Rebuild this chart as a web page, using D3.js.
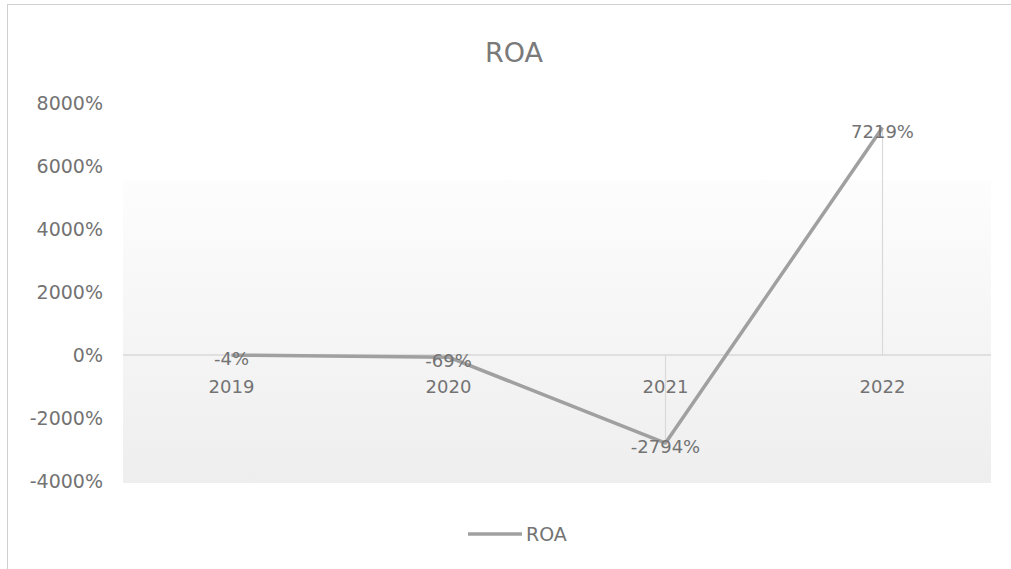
<!DOCTYPE html>
<html>
<head>
<meta charset="utf-8">
<script src="https://cdn.jsdelivr.net/npm/d3@7"></script>
<style>
  body { margin: 0; background: #fff; }
  text { font-family: "DejaVu Sans", sans-serif; }
</style>
</head>
<body>
<svg id="chart" width="1011" height="569"></svg>
<script>
// data
let years = ["2019", "2020", "2021", "2022"];
let roa = [-4, -69, -2794, 7219];
let yTicks = [-4000, -2000, 0, 2000, 4000, 6000, 8000];

let svg = d3.select("#chart");

// chart frame
svg.append("rect")
  .attr("x", 7.5).attr("y", 4.5)
  .attr("width", 1010).attr("height", 570)
  .attr("fill", "#fff")
  .attr("stroke", "#d0d0d0");

// scales
let xScale = d3.scaleBand()
  .domain(years)
  .range([123, 991]);

let yScale = d3.scaleLinear()
  .domain([-4000, 8000])
  .range([481, 103]);

// background band in plot area
let defs = svg.append("defs");
let grad = defs.append("linearGradient")
  .attr("id", "bg").attr("x1", 0).attr("y1", 0).attr("x2", 0).attr("y2", 1);
grad.append("stop").attr("offset", "0%").attr("stop-color", "#fdfdfd");
grad.append("stop").attr("offset", "100%").attr("stop-color", "#eeeeee");

svg.append("rect")
  .attr("x", 123).attr("y", 180)
  .attr("width", 868).attr("height", yScale(-4000) - 180 + 2)
  .attr("fill", "url(#bg)");

// title
svg.append("text")
  .attr("x", 514).attr("y", 62)
  .attr("text-anchor", "middle")
  .attr("font-size", 27)
  .attr("fill", "#7a7a7a")
  .text("ROA");

// y axis labels
let yAxis = d3.axisLeft(yScale)
  .tickValues(yTicks)
  .tickSize(0)
  .tickPadding(0)
  .tickFormat(d => d + "%");

svg.append("g")
  .attr("transform", "translate(103,0)")
  .call(yAxis)
  .call(g => g.select(".domain").remove())
  .call(g => g.selectAll("text")
    .attr("font-family", "DejaVu Sans")
    .attr("font-size", 19)
    .attr("fill", "#737373"));

// zero line
svg.append("line")
  .attr("x1", 123).attr("x2", 991)
  .attr("y1", yScale(0)).attr("y2", yScale(0))
  .attr("stroke", "#d9d9d9").attr("stroke-width", 1.5);

// category labels
let xAxis = d3.axisBottom(xScale).tickSize(0).tickPadding(25);
svg.append("g")
  .attr("transform", `translate(0,${yScale(0)})`)
  .call(xAxis)
  .call(g => g.select(".domain").remove())
  .call(g => g.selectAll("text")
    .attr("font-family", "DejaVu Sans")
    .attr("font-size", 18)
    .attr("fill", "#737373"));

let cx = d => xScale(d) + xScale.bandwidth() / 2;

// drop lines
svg.append("g").selectAll("line")
  .data(years)
  .join("line")
  .attr("x1", d => cx(d)).attr("x2", d => cx(d))
  .attr("y1", yScale(0))
  .attr("y2", (d, i) => yScale(roa[i]))
  .attr("stroke", "#d9d9d9").attr("stroke-width", 1.2);

// series line
let line = d3.line()
  .x((d, i) => cx(years[i]))
  .y(d => yScale(d));

svg.append("path")
  .datum(roa)
  .attr("d", line)
  .attr("fill", "none")
  .attr("stroke", "#a0a0a0")
  .attr("stroke-width", 3.5)
  .attr("stroke-linejoin", "round");

// data labels
svg.append("g").selectAll("text")
  .data(roa)
  .join("text")
  .attr("x", (d, i) => cx(years[i]))
  .attr("y", d => yScale(d) + 10)
  .attr("text-anchor", "middle")
  .attr("font-size", 18)
  .attr("fill", "#737373")
  .text(d => d + "%");

// legend
svg.append("line")
  .attr("x1", 468).attr("x2", 522)
  .attr("y1", 534).attr("y2", 534)
  .attr("stroke", "#a0a0a0").attr("stroke-width", 3.5);

svg.append("text")
  .attr("x", 526).attr("y", 541)
  .attr("font-size", 19)
  .attr("fill", "#737373")
  .text("ROA");
</script>
</body>
</html>
